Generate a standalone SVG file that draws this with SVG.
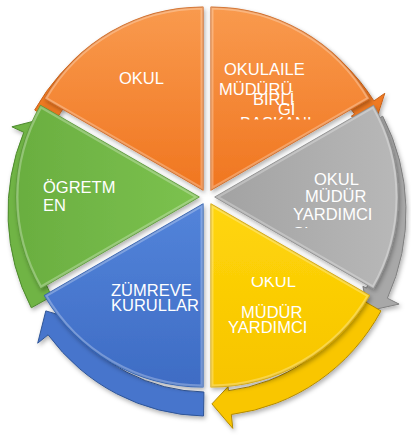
<svg xmlns="http://www.w3.org/2000/svg" width="411" height="436" viewBox="0 0 411 436">
<style>
.t{font-family:"Liberation Sans",Arial,sans-serif;font-size:16.5px;fill:#ffffff}
.w{stroke-width:1.2;stroke-linejoin:round}
.a{stroke-width:1;stroke-linejoin:round}
.hl{fill:none;stroke:#ffffff;stroke-opacity:0.28;stroke-width:5;stroke-linejoin:round}
</style>
<defs>
<filter id="sh" x="-10%" y="-10%" width="120%" height="120%">
<feDropShadow dx="1.5" dy="2.5" stdDeviation="2" flood-color="#000" flood-opacity="0.3"/>
</filter>
<linearGradient id="gO" x1="0" y1="0" x2="0" y2="1"><stop offset="0" stop-color="#F99A4E"/><stop offset="1" stop-color="#F07620"/></linearGradient>
<linearGradient id="gG" x1="1" y1="0" x2="0" y2="0"><stop offset="0" stop-color="#B8B8B8"/><stop offset="1" stop-color="#A2A2A2"/></linearGradient>
<linearGradient id="gY" x1="0" y1="1" x2="0" y2="0"><stop offset="0" stop-color="#F7C400"/><stop offset="1" stop-color="#FFD60A"/></linearGradient>
<linearGradient id="gB" x1="0" y1="1" x2="0" y2="0"><stop offset="0" stop-color="#3E6CC4"/><stop offset="1" stop-color="#5384DA"/></linearGradient>
<linearGradient id="gN" x1="0" y1="0" x2="1" y2="0"><stop offset="0" stop-color="#6AAE40"/><stop offset="1" stop-color="#7CC24F"/></linearGradient>
<path id="p1" d="M203,190.1 L44.5,98.6 A183,183 0 0 1 203,7.1 Z"/>
<path id="p2" d="M211,190.1 L211,7.1 A183,183 0 0 1 369.5,98.6 Z"/>
<path id="p3" d="M215,197 L373.5,105.5 A183,183 0 0 1 373.5,288.5 Z"/>
<path id="p4" d="M211,203.9 L369.5,295.4 A183,183 0 0 1 211,386.9 Z"/>
<path id="p5" d="M203,203.9 L203,386.9 A183,183 0 0 1 44.5,295.4 Z"/>
<path id="p6" d="M199,197 L40.5,288.5 A183,183 0 0 1 40.5,105.5 Z"/>
<clipPath id="k1"><use href="#p1"/></clipPath>
<clipPath id="k2"><use href="#p2"/></clipPath>
<clipPath id="k3"><use href="#p3"/></clipPath>
<clipPath id="k4"><use href="#p4"/></clipPath>
<clipPath id="k5"><use href="#p5"/></clipPath>
<clipPath id="k6"><use href="#p6"/></clipPath>
<clipPath id="c1"><rect x="200" y="0" width="140" height="119.5"/></clipPath>
<clipPath id="c2"><rect x="280" y="200" width="60" height="28"/></clipPath>
<clipPath id="c3"><rect x="230" y="277" width="90" height="30"/></clipPath>
</defs>

<g id="connectors" filter="url(#sh)">
<path class="a" fill="#F07A22" stroke="#C8621A" d="M34.7,110 A199,204 0 0 1 172.5,11.1 L193.9,20.5 L176.4,34.7 A176,180 0 0 0 54.6,122 Z"/>
<path class="a" fill="#F07A22" stroke="#C8621A" d="M213.9,8.1 A199,204 0 0 1 373.9,100.9 L384.8,93.3 L374.5,124.8 L351.3,116.2 L354.6,114 A176,180 0 0 0 213.1,32.1 Z"/>
<path class="a" fill="#A8A8A8" stroke="#808080" d="M382.7,116.2 A199,204 0 0 1 387.4,298.2 L399.1,304.1 L368.2,310.9 L362.9,286.4 L366.5,288.1 A176,180 0 0 0 362.4,127.5 Z"/>
<path class="a" fill="#F9C600" stroke="#B38A00" d="M381,310.9 A199,204 0 0 1 231.3,414.5 L232.8,428.4 L211.9,403.9 L228,386.7 L228.5,390.7 A176,180 0 0 0 360.9,299.3 Z"/>
<path class="a" fill="#4775CC" stroke="#2F5597" d="M203.5,416 A199,204 0 0 1 48.1,334.8 L37.7,343.2 L45.8,310.9 L69.6,317.9 L66.4,320.3 A176,180 0 0 0 203.9,392 Z"/>
<path class="a" fill="#6FB444" stroke="#4E8A2E" d="M31.3,307.8 A199,204 0 0 1 23.8,132.3 L11.9,126.8 L42.6,118.9 L48.7,143.2 L45,141.7 A176,180 0 0 0 51.6,296.5 Z"/>
</g>

<g id="n1"><use href="#p1" class="w" fill="url(#gO)" stroke="#D0661C" filter="url(#sh)"/><use href="#p1" class="hl" clip-path="url(#k1)"/>
<text class="t" x="119" y="84">OKUL</text></g>

<g id="n2"><use href="#p2" class="w" fill="url(#gO)" stroke="#D0661C" filter="url(#sh)"/><use href="#p2" class="hl" clip-path="url(#k2)"/>
<text class="t" x="224" y="75">OKULAILE</text>
<text class="t" x="219" y="95">MÜDÜRÜ</text>
<text class="t" x="253" y="105">BİRLİ</text>
<text class="t" x="278" y="115">Gİ</text>
<text class="t" x="240" y="129" clip-path="url(#c1)">BAŞKANI</text></g>

<g id="n3"><use href="#p3" class="w" fill="url(#gG)" stroke="#8C8C8C" filter="url(#sh)"/><use href="#p3" class="hl" clip-path="url(#k3)"/>
<text class="t" x="314" y="185">OKUL</text>
<text class="t" x="305" y="202">MÜDÜR</text>
<text class="t" x="293" y="220">YARDIMCI</text>
<text class="t" x="293" y="239" clip-path="url(#c2)">SI</text></g>

<g id="n4"><use href="#p4" class="w" fill="url(#gY)" stroke="#D4A600" filter="url(#sh)"/><use href="#p4" class="hl" clip-path="url(#k4)"/>
<text class="t" x="251" y="287" clip-path="url(#c3)">OKUL</text>
<text class="t" x="241" y="318">MÜDÜR</text>
<text class="t" x="228" y="333">YARDIMCI</text></g>

<g id="n5"><use href="#p5" class="w" fill="url(#gB)" stroke="#2F5FB0" filter="url(#sh)"/><use href="#p5" class="hl" clip-path="url(#k5)"/>
<text class="t" x="111" y="296">ZÜMREVE</text>
<text class="t" x="111" y="311">KURULLAR</text></g>

<g id="n6"><use href="#p6" class="w" fill="url(#gN)" stroke="#5A9A35" filter="url(#sh)"/><use href="#p6" class="hl" clip-path="url(#k6)"/>
<text class="t" x="43" y="193">ÖGRETM</text>
<text class="t" x="43" y="211">EN</text></g>
</svg>
